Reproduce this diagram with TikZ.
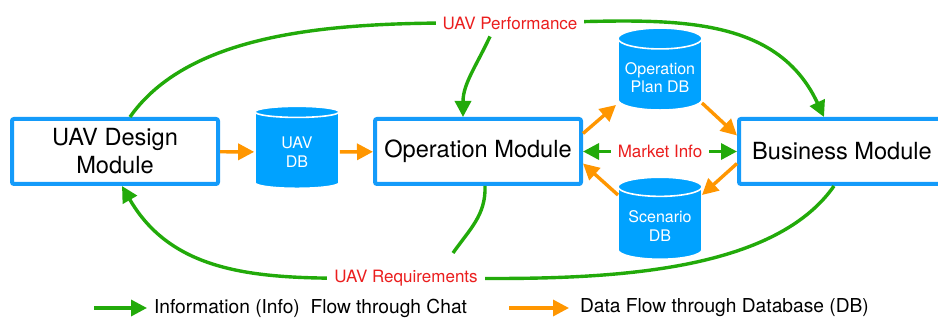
\documentclass[tikz,border=0pt]{standalone}
\usepackage{fontspec}
\setmainfont{TeX Gyre Heros}
\usepackage{xcolor}
\definecolor{infogreen}{RGB}{34,170,10}
\definecolor{dataorange}{RGB}{255,150,0}
\definecolor{dbblue}{RGB}{0,162,255}
\definecolor{boxblue}{RGB}{20,155,250}
\definecolor{lblred}{RGB}{235,30,30}
\usepackage{tikz}
\usetikzlibrary{arrows.meta, positioning, calc, shapes.geometric}

\begin{document}
\begin{tikzpicture}[x=0.5pt, y=-0.5pt,
    module/.style={draw=boxblue, line width=2pt, rounded corners=1pt, minimum width=103pt, minimum height=32.5pt, align=center, font=\fontsize{11.8}{14}\selectfont},
    db/.style={cylinder, shape border rotate=90, aspect=0.25, fill=dbblue, draw=white, line width=0.8pt, minimum width=42pt, minimum height=41pt, text=white, align=center, font=\fontsize{8}{9.2}\selectfont},
    lbl/.style={text=lblred, fill=white, inner xsep=3.5pt, font=\fontsize{8.5}{10}\selectfont},
    infoline/.style={draw=infogreen, line width=1.7pt},
    info/.style={infoline, -{Triangle[length=8pt,width=8pt]}},
    data/.style={draw=dataorange, line width=1.7pt, -{Triangle[length=8pt,width=8pt]}},
    legend/.style={anchor=west, font=\fontsize{9.6}{11}\selectfont}]

    \clip (0,0) rectangle (938,320);

    % Modules
    \node[module] (design) at (115,151.5) {UAV Design\\Module};
    \node[module] (op) at (478,151.5) {Operation Module};
    \node[module] (bus) at (842,151.5) {Business Module};

    % Databases
    \node[db] (uavdb) at (297,152) {UAV\\DB};
    \node[db] (plandb) at (660,77.5) {Operation\\Plan DB};
    \node[db] (scendb) at (660,226) {Scenario\\DB};

    % Data flow through the databases
    \draw[data] (design) -- (uavdb);
    \draw[data] (uavdb) -- (op);
    \draw[data] ([yshift=9pt]op.east) -- ($(plandb.center)+(-44,27.5)$);
    \draw[data] ($(plandb.center)+(42,25.5)$) -- ([yshift=8pt]bus.west);
    \draw[data] ([yshift=-6pt]bus.west) -- ($(scendb.center)+(42,-31)$);
    \draw[data] ($(scendb.center)+(-42,-31)$) -- ([yshift=-6pt]op.east);

    % Info flow through chat
    \coordinate (perf) at (510,23);
    \coordinate (req) at (406,278);
    \coordinate (opreq) at (453,253);
    \draw[info] ([xshift=7.5pt]design.north) to[out=55,in=180,looseness=0.8] (perf) to[out=0,in=115] ([xshift=-9pt]bus.north);
    \draw[info] ([xshift=-4pt]bus.south) to[out=-125,in=0,looseness=0.75] (req) to[out=180,in=-60] ([xshift=3.5pt]design.south);
    \node[lbl] (perflbl) at (perf) {UAV Performance};
    \node[lbl] (reqlbl) at (req) {UAV Requirements};
    \draw[info] ([xshift=-10pt]perflbl.south) to[out=-115,in=90] ([xshift=-7.5pt]op.north);
    \draw[infoline] ([xshift=3.5pt]op.south) to[out=-88,in=55] (opreq);
    \draw[infoline, {Triangle[length=8pt,width=8pt]}-{Triangle[length=8pt,width=8pt]}] (op.east) -- (bus.west) node[lbl, midway] (mkt) {Market Info};

    % Legend
    \node[legend] (leginfo) at (147,308) {Information (Info)\ \ Flow through Chat};
    \coordinate (leginfostart) at (94,308);
    \draw[info] (leginfostart) -- (leginfo.west);
    \node[legend] (legdata) at (573,308) {Data Flow through Database (DB)};
    \coordinate (legdatastart) at (509,308);
    \draw[data] (legdatastart) -- ([xshift=-2pt]legdata.west);
\end{tikzpicture}
\end{document}
